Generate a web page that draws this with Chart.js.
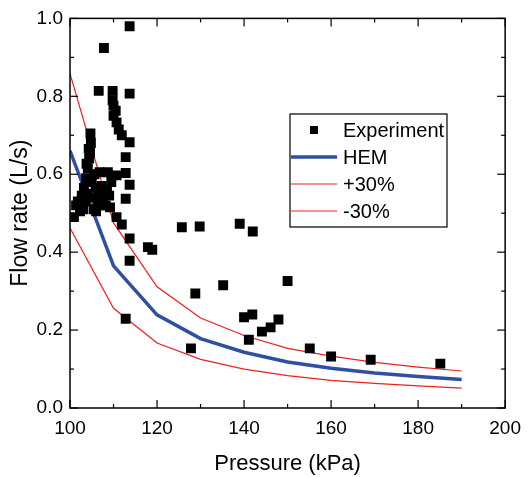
<!DOCTYPE html>
<html>
<head>
<meta charset="utf-8">
<script src="https://cdn.jsdelivr.net/npm/chart.js@4.4.0/dist/chart.umd.min.js"></script>
<style>
  html, body { margin: 0; padding: 0; background: #fff; }
</style>
</head>
<body>
<canvas id="flowChart" width="530" height="477"></canvas>
<script>
// experiment points (pressure kPa, flow L/s)
const expPressure = [
  100.9, 101.4, 101.8, 102.3, 102.5, 102.7, 103.0, 103.2, 103.5, 103.7,
  103.8, 104.0, 104.1, 104.3, 104.4, 104.6, 104.7, 104.8, 105.0, 105.2,
  105.4, 105.6, 105.9, 106.0, 106.3, 106.6, 106.8, 107.0, 107.3, 107.6,
  107.8, 108.2, 108.5, 108.7, 109.0, 109.2, 109.5, 110.7, 110.7,
  113.7, 107.8, 106.6, 109.8, 113.7, 109.8, 110.0, 110.5, 110.0, 110.7,
  111.2, 111.9, 113.7, 112.8, 112.8, 113.7, 112.8, 111.9, 113.7, 113.7,
  112.8, 117.9, 118.9,
  125.7, 129.8, 139.0, 142.0, 135.2, 128.8, 150.0, 140.0, 141.9, 147.9,
  146.1, 144.1, 141.1, 127.8, 155.1, 160.0, 169.1, 185.1
];
const expFlow = [
  0.490, 0.520, 0.530, 0.505, 0.525, 0.545, 0.510, 0.565, 0.530, 0.590,
  0.627, 0.550, 0.615, 0.665, 0.640, 0.655, 0.705, 0.680, 0.580, 0.540,
  0.510, 0.600, 0.565, 0.505, 0.530, 0.550, 0.605, 0.520, 0.570, 0.540,
  0.555, 0.520, 0.560, 0.605, 0.545, 0.515, 0.580, 0.597, 0.490,
  0.980, 0.924, 0.814, 0.814, 0.807, 0.790, 0.776, 0.763, 0.750, 0.733,
  0.715, 0.700, 0.682, 0.644, 0.603, 0.573, 0.537, 0.471, 0.435, 0.378,
  0.229, 0.413, 0.406,
  0.464, 0.466, 0.473, 0.453, 0.315, 0.294, 0.326, 0.233, 0.240, 0.227,
  0.207, 0.196, 0.175, 0.153, 0.153, 0.132, 0.124, 0.114
];

// model curves
const modelPressure = [100, 110, 120, 130, 140, 150, 160, 170, 180, 190];
const hemFlow = [0.660, 0.365, 0.239, 0.178, 0.143, 0.118, 0.102, 0.090, 0.081, 0.073];
const plus30Flow = [0.858, 0.475, 0.311, 0.231, 0.186, 0.153, 0.133, 0.117, 0.105, 0.095];
const minus30Flow = [0.462, 0.256, 0.167, 0.125, 0.100, 0.083, 0.071, 0.063, 0.057, 0.051];

const xTicks = [100, 120, 140, 160, 180, 200];
const yTicks = [0.0, 0.2, 0.4, 0.6, 0.8, 1.0];

const FONT = 'Liberation Sans, Arial, sans-serif';

function pairs(xs, ys) {
  return xs.map((x, i) => ({ x: x, y: ys[i] }));
}

// box around plot with inward major/minor ticks on all four sides
const framePlugin = {
  id: 'frame',
  afterDatasetsDraw(chart) {
    const { ctx, chartArea: a, scales } = chart;
    const xs = scales.x, ys = scales.y;
    ctx.save();
    ctx.strokeStyle = '#000';
    ctx.lineWidth = 1.5;
    ctx.strokeRect(a.left, a.top, a.right - a.left, a.bottom - a.top);
    ctx.lineWidth = 1.2;
    const tick = (x1, y1, x2, y2) => {
      ctx.beginPath(); ctx.moveTo(x1, y1); ctx.lineTo(x2, y2); ctx.stroke();
    };
    xTicks.forEach((v, i) => {
      const px = xs.getPixelForValue(v);
      tick(px, a.bottom, px, a.bottom - 8);
      tick(px, a.top, px, a.top + 8);
      if (i < xTicks.length - 1) {
        const m = xs.getPixelForValue((v + xTicks[i + 1]) / 2);
        tick(m, a.bottom, m, a.bottom - 4);
        tick(m, a.top, m, a.top + 4);
      }
    });
    yTicks.forEach((v, i) => {
      const py = ys.getPixelForValue(v);
      tick(a.left, py, a.left + 8, py);
      tick(a.right, py, a.right - 8, py);
      if (i < yTicks.length - 1) {
        const m = ys.getPixelForValue((v + yTicks[i + 1]) / 2);
        tick(a.left, m, a.left + 4, m);
        tick(a.right, m, a.right - 4, m);
      }
    });
    ctx.restore();
  }
};

// boxed legend inside the plot
const legendPlugin = {
  id: 'boxLegend',
  afterDraw(chart) {
    const ctx = chart.ctx;
    const box = { x: 290, y: 114, w: 157, h: 113 };
    ctx.save();
    ctx.fillStyle = '#fff';
    ctx.fillRect(box.x, box.y, box.w, box.h);
    ctx.strokeStyle = '#000';
    ctx.lineWidth = 1.2;
    ctx.strokeRect(box.x, box.y, box.w, box.h);
    ctx.font = '20px ' + FONT;
    ctx.textBaseline = 'middle';
    chart.data.datasets.forEach((ds, i) => {
      const cy = box.y + 16 + i * 27;
      if (ds.showLine === false) {
        ctx.fillStyle = ds.pointBackgroundColor;
        ctx.fillRect(310, cy - 4, 8, 8);
      } else {
        ctx.strokeStyle = ds.borderColor;
        ctx.lineWidth = ds.borderWidth;
        ctx.beginPath(); ctx.moveTo(291, cy); ctx.lineTo(337, cy); ctx.stroke();
      }
      ctx.fillStyle = '#000';
      ctx.fillText(ds.label, 343, cy + 1);
    });
    ctx.restore();
  }
};

new Chart(document.getElementById('flowChart').getContext('2d'), {
  type: 'scatter',
  data: {
    datasets: [
      {
        label: 'Experiment',
        data: pairs(expPressure, expFlow),
        showLine: false,
        pointStyle: 'rect',
        pointRadius: 7,
        pointBackgroundColor: '#000',
        pointBorderWidth: 0
      },
      {
        label: 'HEM',
        data: pairs(modelPressure, hemFlow),
        showLine: true,
        borderColor: '#2f4fa3',
        borderWidth: 3.5,
        pointRadius: 0
      },
      {
        label: '+30%',
        data: pairs(modelPressure, plus30Flow),
        showLine: true,
        borderColor: '#f0201e',
        borderWidth: 1.2,
        pointRadius: 0
      },
      {
        label: '-30%',
        data: pairs(modelPressure, minus30Flow),
        showLine: true,
        borderColor: '#f0201e',
        borderWidth: 1.2,
        pointRadius: 0
      }
    ]
  },
  options: {
    responsive: false,
    animation: false,
    layout: { padding: { top: 15, right: 22, left: 0, bottom: 0 } },
    plugins: {
      legend: { display: false },
      tooltip: { enabled: false }
    },
    scales: {
      x: {
        type: 'linear',
        min: 100,
        max: 200,
        afterBuildTicks: (s) => { s.ticks = xTicks.map(v => ({ value: v })); },
        afterFit: (s) => { s.height = 69; },
        grid: { display: false, drawTicks: false },
        border: { display: false },
        ticks: { color: '#000', padding: 9, font: { family: FONT, size: 19 } },
        title: {
          display: true,
          text: 'Pressure (kPa)',
          color: '#000',
          padding: { top: 6, bottom: 0 },
          font: { family: FONT, size: 22 }
        }
      },
      y: {
        type: 'linear',
        min: 0,
        max: 1,
        afterBuildTicks: (s) => { s.ticks = yTicks.map(v => ({ value: v })); },
        afterFit: (s) => { s.width = 70; },
        grid: { display: false, drawTicks: false },
        border: { display: false },
        ticks: {
          color: '#000',
          padding: 7,
          font: { family: FONT, size: 19 },
          callback: (v) => Number(v).toFixed(1)
        },
        title: {
          display: true,
          text: 'Flow rate (L/s)',
          color: '#000',
          padding: { top: 7, bottom: 0 },
          font: { family: FONT, size: 23 }
        }
      }
    }
  },
  plugins: [framePlugin, legendPlugin]
});
</script>
</body>
</html>
